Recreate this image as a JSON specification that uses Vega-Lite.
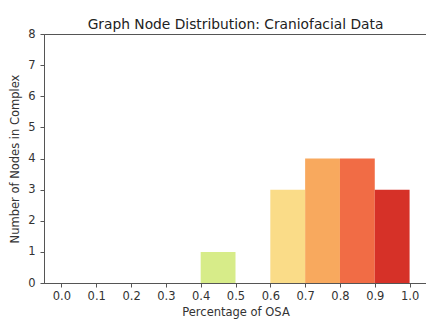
{
  "$schema": "https://vega.github.io/schema/vega-lite/v6.json",
  "autosize": "none",
  "width": 383,
  "height": 249,
  "padding": {"left": 44, "top": 34, "right": 0, "bottom": 37},
  "background": "white",
  "title": {
    "text": "Graph Node Distribution: Craniofacial Data",
    "font": "DejaVu Sans",
    "fontSize": 13.8,
    "fontWeight": "normal",
    "color": "#222",
    "offset": 0,
    "dy": 4
  },
  "data": {
    "values": [
      {"bin_start": 0.4, "bin_end": 0.5, "count": 1},
      {"bin_start": 0.6, "bin_end": 0.7, "count": 3},
      {"bin_start": 0.7, "bin_end": 0.8, "count": 4},
      {"bin_start": 0.8, "bin_end": 0.9, "count": 4},
      {"bin_start": 0.9, "bin_end": 1.0, "count": 3}
    ]
  },
  "mark": {"type": "bar", "stroke": null},
  "encoding": {
    "x": {
      "field": "bin_start",
      "type": "quantitative",
      "scale": {"domain": [-0.05, 1.05], "nice": false, "zero": false},
      "axis": {
        "values": [0, 0.1, 0.2, 0.3, 0.4, 0.5, 0.6, 0.7, 0.8, 0.9, 1.0],
        "format": ".1f",
        "title": "Percentage of OSA",
        "grid": false,
        "titlePadding": 5
      }
    },
    "x2": {"field": "bin_end"},
    "y": {
      "field": "count",
      "type": "quantitative",
      "scale": {"domain": [0, 8], "nice": false},
      "axis": {
        "values": [0, 1, 2, 3, 4, 5, 6, 7, 8],
        "title": "Number of Nodes in Complex",
        "grid": false,
        "labelPadding": 5,
        "titlePadding": 7
      }
    },
    "y2": {"datum": 0},
    "color": {
      "field": "bin_start",
      "type": "nominal",
      "scale": {
        "domain": [0.4, 0.6, 0.7, 0.8, 0.9],
        "range": ["#d7ec89", "#fadc88", "#f8a95e", "#f16c45", "#d63128"]
      },
      "legend": null
    }
  },
  "config": {
    "view": {"stroke": "#555", "strokeWidth": 1},
    "axis": {
      "labelFont": "DejaVu Sans",
      "labelFontSize": 11.5,
      "labelColor": "#333",
      "titleFont": "DejaVu Sans",
      "titleFontSize": 11.5,
      "titleFontWeight": "normal",
      "titleColor": "#333",
      "domainColor": "#555",
      "tickColor": "#555",
      "tickSize": 4,
      "labelPadding": 3,
      "titlePadding": 3
    }
  }
}
